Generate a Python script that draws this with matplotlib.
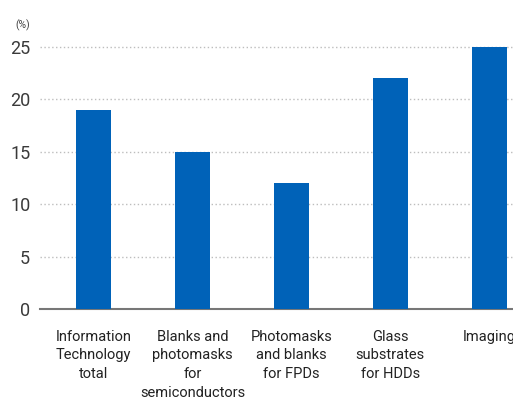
import matplotlib.pyplot as plt

plt.rcParams['font.family'] = ['Roboto', 'DejaVu Sans']

categories = [
    "Information\nTechnology\ntotal",
    "Blanks and\nphotomasks\nfor\nsemiconductors",
    "Photomasks\nand blanks\nfor FPDs",
    "Glass\nsubstrates\nfor HDDs",
    "Imaging",
]
values = [19, 15, 12, 22, 25]
yticks = [0, 5, 10, 15, 20, 25]

fig = plt.figure(figsize=(5.13, 3.98), dpi=100)
ax = fig.add_axes([40 / 513, 1 - 309 / 398, 1 - 40 / 513, 272.5 / 398])

x = list(range(len(values)))
ax.bar(x, values, width=0.35, color='#0062b8', zorder=3)

ax.set_xlim(-0.54, 4.24)
ax.set_ylim(0, 26)
ax.set_yticks(yticks)
ax.set_yticklabels([str(t) for t in yticks], fontsize=13, color='#3a3a3a')
ax.tick_params(axis='y', length=0, pad=7)
ax.set_xticks(x)
ax.set_xticklabels(categories, fontsize=10.5, color='#222222', linespacing=1.42)
ax.tick_params(axis='x', length=0, pad=15)

ax.yaxis.grid(True, linestyle=(0, (1, 1.8)), color='#bdbdbd', linewidth=1, zorder=0)
for side in ['top', 'right', 'left']:
    ax.spines[side].set_visible(False)
ax.spines['bottom'].set_color('#777777')
ax.spines['bottom'].set_linewidth(1.5)

fig.text(15 / 513, 1 - 25 / 398, "(%)", fontsize=7.5, color='#444444', va='center')

fig.savefig('out.png', dpi=100)
